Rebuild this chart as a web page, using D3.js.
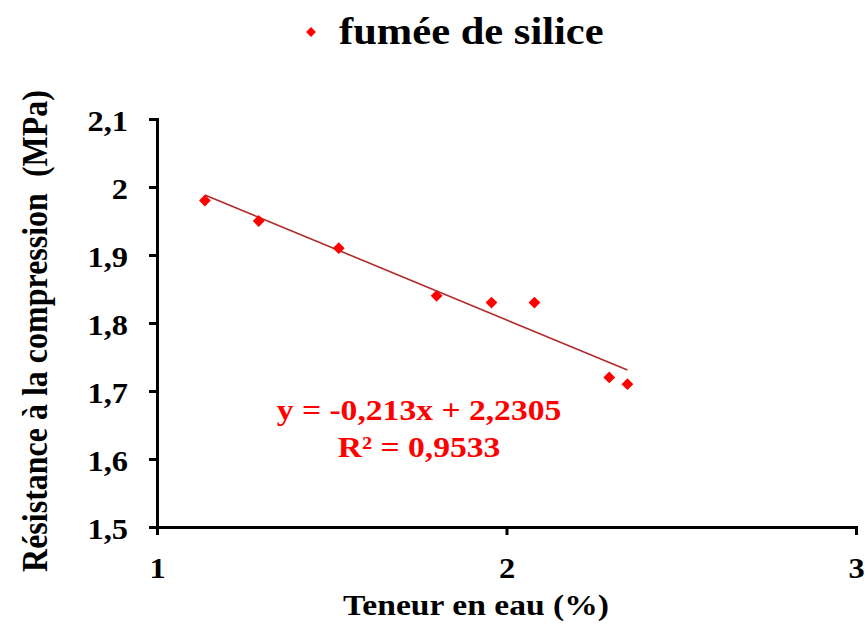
<!DOCTYPE html>
<html><head><meta charset="utf-8">
<script src="https://cdn.jsdelivr.net/npm/d3@7"></script>
<style>body{margin:0;background:#fff}svg{display:block}text{font-family:"Liberation Serif","Times New Roman",serif;font-weight:bold}</style>
</head><body>
<svg id="c" width="865" height="624"></svg>
<script>
const seriesName = "fumée de silice";
const waterContent = [1.137, 1.291, 1.52, 1.80, 1.957, 2.08, 2.294, 2.346];
const strength = [1.98, 1.95, 1.91, 1.84, 1.83, 1.83, 1.72, 1.71];
const xTicks = [1, 2, 3];
const yTicks = [1.5, 1.6, 1.7, 1.8, 1.9, 2.0, 2.1];
const slope = -0.213, intercept = 2.2305;
const eqLines = ["y = -0,213x + 2,2305", "R² = 0,9533"];
const xTitle = "Teneur en eau (%)";
const yTitle = "Résistance à la compression  (MPa)";

const SX = 1.12; // horizontal stretch of the reference typography
const svg = d3.select("#c");
const x = d3.scaleLinear().domain([1, 3]).range([157, 856]);
const y = d3.scaleLinear().domain([1.5, 2.1]).range([527, 119]);
const fmt = v => String(+v.toFixed(1)).replace(".", ",");

const xAxis = svg.append("g").attr("transform", "translate(0,527)")
  .call(d3.axisBottom(x).tickValues(xTicks).tickFormat(fmt).tickSize(8).tickSizeOuter(8));
const yAxis = svg.append("g").attr("transform", "translate(157,0)")
  .call(d3.axisLeft(y).tickValues(yTicks).tickFormat(fmt).tickSize(8).tickSizeOuter(8));
[xAxis, yAxis].forEach(g => {
  g.select(".domain").attr("stroke", "#000").attr("stroke-width", 3);
  g.selectAll(".tick line").attr("stroke", "#000").attr("stroke-width", 3);
  g.selectAll(".tick text").attr("fill", "#000").style("font-size", "29px")
    .style("font-family", "'Liberation Serif',serif").style("font-weight", "bold")
    .attr("x", 0).attr("y", 0).attr("dy", null);
});
yAxis.selectAll(".tick text").attr("text-anchor", "end")
  .attr("transform", `translate(-29,11) scale(${SX},1)`);
xAxis.selectAll(".tick text").attr("text-anchor", "middle")
  .attr("transform", `translate(0,51) scale(${SX},1)`);

// trendline
const x0 = d3.min(waterContent), x1 = d3.max(waterContent);
svg.append("line")
  .attr("x1", x(x0)).attr("y1", y(slope * x0 + intercept))
  .attr("x2", x(x1)).attr("y2", y(slope * x1 + intercept))
  .attr("stroke", "#b22a2a").attr("stroke-width", 1.6);

const diamond = d3.symbol().type(d3.symbolSquare).size(70);
svg.append("g").selectAll("path").data(waterContent).join("path")
  .attr("d", diamond)
  .attr("transform", (d, i) => `translate(${x(d)},${y(strength[i])}) rotate(45)`)
  .attr("fill", "#ff0000");

// equation
svg.append("g").selectAll("text").data(eqLines).join("text")
  .attr("transform", (d, i) => `translate(419,${420 + i * 37}) scale(${SX},1)`)
  .attr("text-anchor", "middle").attr("fill", "#ff0000").style("font-size", "30px")
  .text(d => d);

// legend
svg.append("path").attr("d", d3.symbol().type(d3.symbolSquare).size(48))
  .attr("transform", "translate(311,32) rotate(45)").attr("fill", "#ff0000");
svg.append("text").attr("transform", `translate(339,44) scale(${SX},1)`)
  .style("font-size", "38px").attr("fill", "#000").text(seriesName);

// axis titles
svg.append("text").attr("transform", `translate(476,615) scale(${SX},1)`).attr("text-anchor", "middle")
  .style("font-size", "30px").attr("fill", "#000").text(xTitle);
svg.append("text").attr("transform", `translate(47,331) rotate(-90) scale(1,${SX})`).attr("text-anchor", "middle")
  .style("font-size", "32px").attr("fill", "#000").attr("xml:space", "preserve").style("white-space", "pre").text(yTitle);
</script>
</body></html>
